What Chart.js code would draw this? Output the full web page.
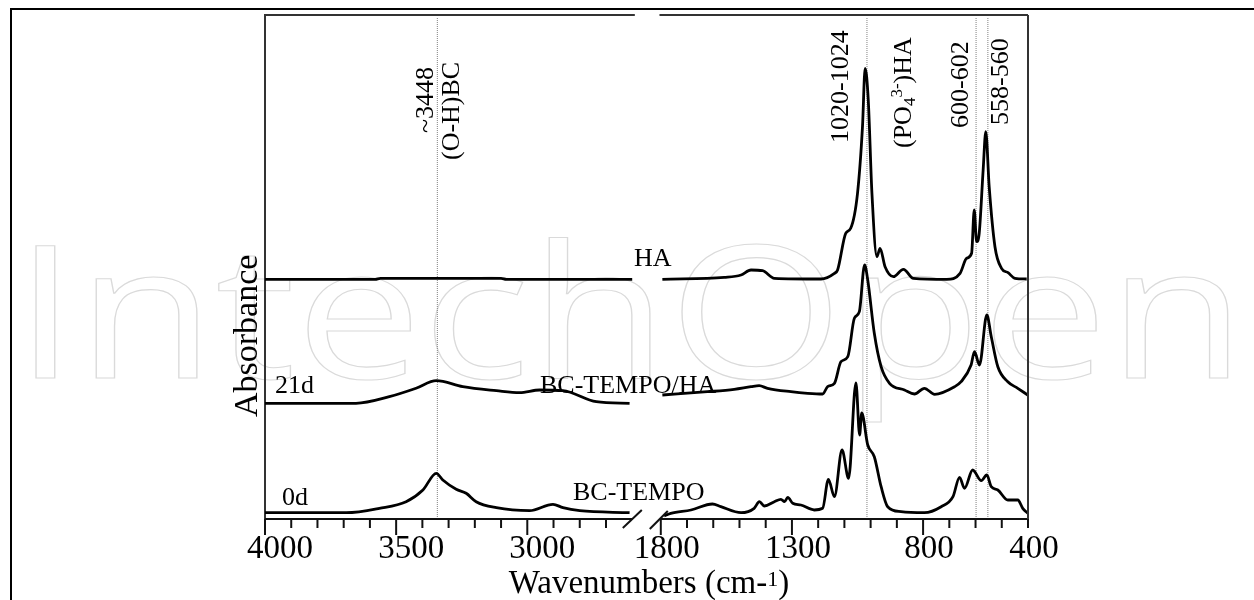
<!DOCTYPE html>
<html>
<head>
<meta charset="utf-8">
<script src="https://cdn.jsdelivr.net/npm/chart.js@4.4.1/dist/chart.umd.min.js"></script>
<style>
  html, body { margin: 0; padding: 0; background: #fff; }
</style>
</head>
<body>
<canvas id="myChart" width="1254" height="600"></canvas>
<script>
// FTIR spectra (absorbance in arbitrary units, spectra offset vertically)
const waveTempo = [4000, 3690, 3564, 3462, 3398, 3347, 3322, 3271, 3233, 3195, 3118, 2991, 2902, 2864, 2800, 2610,
  1787, 1762, 1685, 1603, 1571, 1494, 1444, 1424, 1405, 1367, 1342, 1328, 1316, 1297, 1266, 1215, 1183, 1161, 1138,
  1109, 1084, 1056, 1042, 1034, 1011, 986, 960, 935, 884, 795, 731, 686, 661, 642, 611, 578, 557, 540, 515, 477,
  439, 420, 401];
const absTempo = [6.3, 6.3, 10.7, 17.3, 29, 45.7, 39, 29.7, 25.7, 17.3, 11.3, 8.3, 14.7, 11.3, 8.3, 6.3,
  3, 5.7, 9, 15, 12.3, 6.3, 10.7, 17.3, 13, 17.3, 19.7, 17.3, 21.7, 15.7, 14, 9, 10.7, 39.7, 22.3,
  69, 40.7, 136, 84, 106, 74, 62.3, 32.3, 12.3, 7.3, 6.3, 12.3, 22.3, 41.7, 30.7, 49, 38.3, 44, 32.3, 29, 19,
  19, 10.7, 5.7];

const waveTempoHA = [4000, 3653, 3526, 3424, 3347, 3246, 3118, 3029, 2953, 2864, 2737, 2610,
  1794, 1622, 1520, 1456, 1425, 1393, 1304, 1240, 1183, 1164, 1138, 1113, 1087, 1062, 1043, 1023, 1011, 986, 960,
  928, 871, 833, 795, 756, 680, 655, 617, 604, 585, 557, 540, 515, 477, 439, 401];
const absTempoHA = [115.7, 115.7, 122.3, 130.7, 138.3, 132.3, 128.3, 126.3, 129, 128.3, 117.3, 115.7,
  124, 127.3, 129.7, 132.3, 133.3, 130.7, 127.3, 125.7, 125, 132.3, 135.7, 157.3, 162.3, 200.7, 207.3, 254, 239, 185.7, 152.3,
  135.7, 129, 125, 130.7, 124.7, 132.3, 137.3, 154, 167.3, 154, 204, 182.3, 152.3, 137.3, 130.7, 124];

const waveHA = [4000, 3580, 3560, 3100, 3080, 2600,
  1794, 1558, 1494, 1456, 1412, 1367, 1189, 1138, 1126, 1095, 1076, 1050, 1031, 1021, 1009, 995, 976, 964, 945,
  913, 875, 837, 710, 659, 634, 615, 605, 596, 586, 571, 561, 548, 526, 501, 476, 450, 405];
const absHA = [239.7, 239.7, 240.7, 240.7, 239.7, 239.7,
  239.7, 241.7, 244, 249, 248.3, 240.7, 240, 245.7, 249, 285.7, 290.7, 325.7, 392.3, 450.7, 419, 325.7, 262.3, 270.7, 252.3,
  242.3, 249.7, 240.7, 239.7, 245.7, 260.7, 265.7, 309, 277.3, 285.7, 349, 387.3, 332.3, 272.3, 250.7, 246.3, 240.7, 240];

const markerWaves = [3343, 1014, 598, 553];
const ticksLeft = [4000, 3500, 3000];
const ticksRight = [1800, 1300, 800, 400];
const BREAK = 2200;

Chart.defaults.font.family = '"Liberation Serif", "Times New Roman", serif';
Chart.defaults.color = '#000';

function segment(waves, values, left) {
  const pts = [];
  waves.forEach((w, i) => {
    if ((w > BREAK) === left) pts.push({x: w, y: values[i]});
  });
  return pts;
}

function spectrum(label, waves, values, left) {
  return {
    label: label,
    data: segment(waves, values, left),
    xAxisID: left ? 'xL' : 'xR',
    yAxisID: 'y',
    borderColor: '#000',
    borderWidth: 2.8,
    pointRadius: 0,
    cubicInterpolationMode: 'monotone',
    borderJoinStyle: 'round',
    order: 1
  };
}

const datasets = [];
[['BC-TEMPO', waveTempo, absTempo], ['BC-TEMPO/HA', waveTempoHA, absTempoHA], ['HA', waveHA, absHA]].forEach(s => {
  datasets.push(spectrum(s[0], s[1], s[2], true));
  datasets.push(spectrum(s[0], s[1], s[2], false));
});
markerWaves.forEach(w => {
  datasets.push({
    data: [{x: w, y: 0}, {x: w, y: 501}],
    xAxisID: w > BREAK ? 'xL' : 'xR',
    yAxisID: 'y',
    borderColor: '#808080',
    borderWidth: 1,
    borderDash: [1, 1],
    pointRadius: 0,
    order: 2
  });
});

// rotated text made of pieces: [text, size, shift]
function vtext(ctx, pieces, x, y) {
  ctx.save();
  ctx.translate(x, y);
  ctx.rotate(-Math.PI / 2);
  ctx.textAlign = 'left';
  ctx.textBaseline = 'alphabetic';
  let pos = 0;
  pieces.forEach(p => {
    ctx.font = p[1] + 'px "Liberation Serif"';
    ctx.fillText(p[0], pos, p[2] || 0);
    pos += ctx.measureText(p[0]).width;
  });
  ctx.restore();
}

const decor = {
  id: 'decor',
  beforeDraw(chart) {
    const ctx = chart.ctx;
    ctx.save();
    ctx.fillStyle = '#fff';
    ctx.fillRect(0, 0, chart.width, chart.height);
    // watermark
    ctx.font = '186px "Open Sans"';
    const tw = ctx.measureText('IntechOpen').width;
    ctx.translate(14, 378);
    ctx.scale(1232 / tw, 1);
    ctx.strokeStyle = '#dadada';
    ctx.lineWidth = 1.1;
    ctx.strokeText('IntechOpen', 0, 0);
    ctx.restore();
    // outer frame
    ctx.save();
    ctx.strokeStyle = '#000';
    ctx.lineWidth = 2;
    ctx.beginPath();
    ctx.moveTo(11, 600);
    ctx.lineTo(11, 9);
    ctx.lineTo(1254, 9);
    ctx.stroke();
    ctx.restore();
  },
  afterDraw(chart) {
    const {ctx, chartArea: a} = chart;
    const xL = chart.scales.xL, xR = chart.scales.xR;
    const line = (x1, y1, x2, y2) => {
      ctx.beginPath(); ctx.moveTo(x1, y1); ctx.lineTo(x2, y2); ctx.stroke();
    };
    ctx.save();
    ctx.lineWidth = 2;
    ctx.strokeStyle = '#111';
    // broken bottom axis
    line(xL.getPixelForValue(4000), a.bottom, xL.getPixelForValue(2598), a.bottom);
    line(xR.getPixelForValue(1800), a.bottom, xR.getPixelForValue(400), a.bottom);
    // ticks
    for (let w = 4000; w >= 2700; w -= 100) {
      const px = xL.getPixelForValue(w);
      line(px, a.bottom, px, a.bottom + ((4000 - w) % 500 === 0 ? 16 : 9));
    }
    for (let w = 1800; w >= 400; w -= 100) {
      const px = xR.getPixelForValue(w);
      line(px, a.bottom, px, a.bottom + ((1800 - w) % 500 === 0 ? 16 : 9));
    }
    // break marks
    const bx = xL.right;
    line(bx - 22, a.bottom + 9, bx - 3, a.bottom - 9);
    line(bx + 5, a.bottom + 10, bx + 23, a.bottom - 8);
    // top and right frame
    ctx.strokeStyle = '#333';
    line(a.left, a.top, xL.getPixelForValue(2590), a.top);
    line(xR.getPixelForValue(1805), a.top, a.right, a.top);
    line(a.right, a.top, a.right, a.bottom);
    ctx.restore();

    // band annotations
    ctx.save();
    ctx.fillStyle = '#000';
    vtext(ctx, [['~3448', 26]], 433, 133);
    vtext(ctx, [['(O-H)BC', 26]], 459, 160);
    vtext(ctx, [['1020-1024', 26]], 848, 143);
    vtext(ctx, [['(PO', 26], ['4', 17, 4], ['3-', 17, -9], [')HA', 26]], 911, 148);
    vtext(ctx, [['600-602', 26]], 968, 128);
    vtext(ctx, [['558-560', 26]], 1008, 125);

    // spectrum labels
    ctx.font = '26px "Liberation Serif"';
    ctx.textAlign = 'left';
    ctx.textBaseline = 'alphabetic';
    ctx.fillText('HA', 634, 266);
    ctx.fillText('21d', 275, 393);
    ctx.fillText('BC-TEMPO/HA', 540, 393);
    ctx.fillText('0d', 282, 505);
    ctx.fillText('BC-TEMPO', 573, 500);

    // axis titles
    vtext(ctx, [['Absorbance', 34]], 257, 417);
    ctx.font = '33px "Liberation Serif"';
    const t1 = 'Wavenumbers (cm-', t3 = ')';
    const w1 = ctx.measureText(t1).width, w3 = ctx.measureText(t3).width;
    ctx.font = '22px "Liberation Serif"';
    const w2 = ctx.measureText('1').width;
    let sx = 649 - (w1 + w2 + w3) / 2;
    ctx.font = '33px "Liberation Serif"';
    ctx.fillText(t1, sx, 593);
    ctx.font = '22px "Liberation Serif"';
    ctx.fillText('1', sx + w1, 586);
    ctx.font = '33px "Liberation Serif"';
    ctx.fillText(t3, sx + w1 + w2, 593);
    ctx.restore();
  }
};

function xScale(min, max, weight, tickList, offset) {
  return {
    type: 'linear',
    position: 'bottom',
    stack: 'wn',
    stackWeight: weight,
    min: min,
    max: max,
    reverse: true,
    grid: {display: false, drawTicks: false},
    border: {display: false},
    afterBuildTicks: s => { s.ticks = tickList.map(v => ({value: v})); },
    afterFit: s => { s.height = 50; },
    ticks: {
      autoSkip: false,
      maxRotation: 0,
      padding: 11,
      labelOffset: offset,
      color: '#000',
      font: {size: 33},
      callback: v => String(v)
    }
  };
}

const ctx = document.getElementById('myChart').getContext('2d');
const myChart = new Chart(ctx, {
  type: 'line',
  data: {datasets: datasets},
  options: {
    responsive: false,
    devicePixelRatio: 1,
    animation: false,
    events: [],
    layout: {padding: {left: 265, right: 226, top: 15, bottom: 31}},
    plugins: {legend: {display: false}, tooltip: {enabled: false}},
    scales: {
      xL: xScale(2552, 4000, 1448, ticksLeft, 15),
      xR: xScale(400, 1861, 1461, ticksRight, 6),
      y: {
        type: 'linear',
        position: 'left',
        min: 0,
        max: 504,
        ticks: {display: false},
        grid: {display: false, drawTicks: false},
        border: {display: true, color: '#333', width: 2},
        afterFit: s => { s.width = 0; }
      }
    }
  },
  plugins: [decor]
});
</script>
</body>
</html>
